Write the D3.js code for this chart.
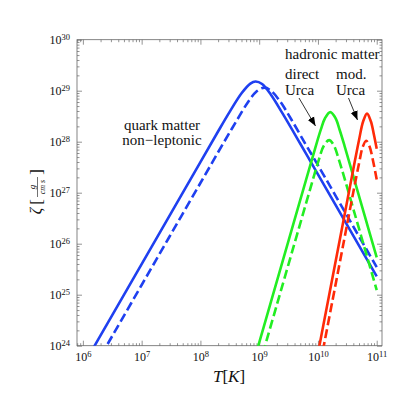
<!DOCTYPE html>
<html>
<head>
<meta charset="utf-8">
<script src="https://cdn.jsdelivr.net/npm/d3@7"></script>
<style>
  body { margin: 0; background: #fff; }
  svg text { font-family: "Liberation Serif", "Times New Roman", serif; fill: #111; }
</style>
</head>
<body>
<svg id="chart" width="415" height="415"></svg>
<script>

// decades shown on the axes (log10 values)
const xDecades = [6, 7, 8, 9, 10, 11];
const yDecades = [24, 25, 26, 27, 28, 29, 30];

// curves, as [log10 T, log10 zeta]
const quarkSolid = [[6.0, 23.60], [6.5, 24.60], [7.0, 25.60], [7.5, 26.60], [8.0, 27.60], [8.3, 28.20],
    [8.5, 28.59], [8.7, 28.95], [8.85, 29.14], [8.94, 29.18], [9.05, 29.13], [9.2, 28.92], [9.4, 28.55],
    [9.7, 27.96], [10.0, 27.36], [10.5, 26.36], [11.0, 25.36]];
const quarkDashed = [[6.2, 23.59], [6.5, 24.19], [7.0, 25.19], [7.5, 26.19], [8.0, 27.19], [8.4, 27.99],
    [8.6, 28.38], [8.8, 28.76], [8.95, 28.98], [9.09, 29.06], [9.2, 29.00], [9.35, 28.80], [9.55, 28.43],
    [9.8, 27.93], [10.0, 27.54], [10.5, 26.54], [11.0, 25.54]];
const directSolid = [[8.9, 23.66], [9.2, 24.86], [9.5, 26.06], [9.8, 27.26], [9.95, 27.86], [10.05, 28.24],
    [10.12, 28.46], [10.21, 28.58], [10.3, 28.46], [10.37, 28.23], [10.45, 27.93], [10.6, 27.33],
    [10.8, 26.53], [11.0, 25.73]];
const directDashed = [[9.0, 23.60], [9.3, 24.80], [9.6, 26.00], [9.85, 27.00], [10.0, 27.59], [10.1, 27.92],
    [10.19, 28.03], [10.27, 27.93], [10.35, 27.67], [10.45, 27.29], [10.6, 26.69], [10.8, 25.89],
    [11.0, 25.09]];
const modSolid = [[9.95, 23.55], [10.2, 25.05], [10.45, 26.55], [10.6, 27.45], [10.7, 28.04], [10.77, 28.40],
    [10.835, 28.55], [10.9, 28.40], [10.95, 28.15], [11.0, 27.86]];
const modDashed = [[10.0, 23.40], [10.25, 24.90], [10.45, 26.10], [10.6, 27.00], [10.7, 27.58], [10.76, 27.89],
    [10.82, 28.02], [10.88, 27.90], [10.94, 27.61], [11.0, 27.26]];

const blue = '#1f40f0', green = '#22ee22', red = '#ff2a08';

const series = [
    { data: quarkSolid, color: blue, dash: null },
    { data: quarkDashed, color: blue, dash: '9,4' },
    { data: directSolid, color: green, dash: null },
    { data: directDashed, color: green, dash: '9,4' },
    { data: modSolid, color: red, dash: null },
    { data: modDashed, color: red, dash: '9,4' }
];

const plotLeft = 77, plotRight = 382, plotTop = 39.7, plotBottom = 345.7;
const serif = '"Liberation Serif", "Times New Roman", serif';

const x = d3.scaleLog().domain([Math.pow(10, 5.9), Math.pow(10, 11.09)]).range([plotLeft, plotRight]);
const y = d3.scaleLog().domain([1e24, 1e30]).range([plotBottom, plotTop]);

const svg = d3.select('#chart').style('font-family', serif);

function minorTicks (scale) {
    var dom = scale.domain(), out = [];
    var lo = Math.floor(Math.log10(dom[0])), hi = Math.ceil(Math.log10(dom[1]));
    for (var d = lo; d <= hi; d++) {
        for (var m = 2; m <= 9; m++) {
            var v = m * Math.pow(10, d);
            if (v > dom[0] && v < dom[1]) out.push(v);
        }
    }
    return out;
}

// superscript labels like 10^24
function powLabel (sel) {
    sel.each(function (d) {
        var t = d3.select(this).text('').style('font-family', serif);
        t.append('tspan').text('10');
        t.append('tspan').attr('dy', '-0.45em').style('font-size', '8.5px').text(Math.round(Math.log10(d)));
    });
}

const xMajor = xDecades.map(function (e) { return Math.pow(10, e); });
const yMajor = yDecades.map(function (e) { return Math.pow(10, e); });

// inward ticks on all four sides
function drawAxis (axisFn, scale, transform, labels) {
    var g = svg.append('g').attr('transform', transform);
    g.call(axisFn(scale).tickValues(minorTicks(scale)).tickSize(-2.5).tickFormat(''));
    g.select('.domain').remove();
    var gM = svg.append('g').attr('transform', transform);
    gM.call(axisFn(scale).tickValues(scale === x ? xMajor : yMajor).tickSize(-5).tickPadding(labels ? 7 : 0)
        .tickFormat(labels ? function (d) { return d; } : ''));
    gM.select('.domain').remove();
    svg.selectAll('.tick line').attr('stroke', '#666').attr('stroke-width', 0.7);
    if (labels) {
        gM.selectAll('text').style('font-size', '12px').attr('fill', '#111').call(powLabel);
    }
    return gM;
}

drawAxis(d3.axisBottom, x, 'translate(0,' + plotBottom + ')', true);
drawAxis(d3.axisTop, x, 'translate(0,' + plotTop + ')', false);
drawAxis(d3.axisLeft, y, 'translate(' + plotLeft + ',0)', true);
drawAxis(d3.axisRight, y, 'translate(' + plotRight + ',0)', false);

svg.append('rect')
    .attr('x', plotLeft).attr('y', plotTop)
    .attr('width', plotRight - plotLeft).attr('height', plotBottom - plotTop)
    .attr('fill', 'none').attr('stroke', '#666').attr('stroke-width', 0.8);

svg.append('clipPath').attr('id', 'plotClip')
    .append('rect').attr('x', plotLeft).attr('y', plotTop)
    .attr('width', plotRight - plotLeft).attr('height', plotBottom - plotTop);

const line = d3.line()
    .x(function (d) { return x(Math.pow(10, d[0])); })
    .y(function (d) { return y(Math.pow(10, d[1])); })
    .curve(d3.curveCatmullRom.alpha(0.5));

svg.append('g').attr('clip-path', 'url(#plotClip)')
    .selectAll('path').data(series).enter().append('path')
    .attr('d', function (s) { return line(s.data); })
    .attr('fill', 'none')
    .attr('stroke', function (s) { return s.color; })
    .attr('stroke-width', 2.6)
    .attr('stroke-dasharray', function (s) { return s.dash; });

// annotations
const note = svg.append('g').style('font-size', '15px').style('font-family', serif);
note.append('text').attr('x', 162).attr('y', 130).attr('text-anchor', 'middle').text('quark matter');
note.append('text').attr('x', 162).attr('y', 145).attr('text-anchor', 'middle').text('non\u2212leptonic');
note.append('text').attr('x', 285).attr('y', 59).text('hadronic matter');
note.append('text').attr('x', 285).attr('y', 79).text('direct');
note.append('text').attr('x', 285).attr('y', 95).text('Urca');
note.append('text').attr('x', 336).attr('y', 79).text('mod.');
note.append('text').attr('x', 336).attr('y', 95).text('Urca');

svg.append('defs').append('marker')
    .attr('id', 'arrow').attr('viewBox', '0 0 10 10')
    .attr('refX', 10).attr('refY', 5)
    .attr('markerWidth', 9).attr('markerHeight', 9)
    .attr('markerUnits', 'userSpaceOnUse')
    .attr('orient', 'auto')
    .append('path').attr('d', 'M0,1 L10,5 L0,9 Z').attr('fill', '#000');

svg.append('line').attr('x1', 299).attr('y1', 98).attr('x2', 315.5).attr('y2', 126)
    .attr('stroke', '#000').attr('stroke-width', 0.8).attr('marker-end', 'url(#arrow)');
svg.append('line').attr('x1', 348.5).attr('y1', 98).attr('x2', 357.5).attr('y2', 120)
    .attr('stroke', '#000').attr('stroke-width', 0.8).attr('marker-end', 'url(#arrow)');

// x axis title
const xt = svg.append('text').attr('x', 229).attr('y', 382).attr('text-anchor', 'middle')
    .style('font-size', '17px').style('font-family', serif);
xt.append('tspan').style('font-style', 'italic').text('T');
xt.append('tspan').text('[');
xt.append('tspan').style('font-style', 'italic').text('K');
xt.append('tspan').text(']');

// y axis title: zeta [ g / cm s ], rotated
const yt = svg.append('g').attr('transform', 'translate(37,190) rotate(-90)').style('font-family', serif);
yt.append('text').attr('x', -21).attr('y', 4).attr('text-anchor', 'middle')
    .style('font-size', '16px').style('font-style', 'italic').text('\u03b6');
yt.append('text').attr('x', -12).attr('y', 5).attr('text-anchor', 'middle').style('font-size', '17px').text('[');
yt.append('text').attr('x', 18).attr('y', 5).attr('text-anchor', 'middle').style('font-size', '17px').text(']');
yt.append('text').attr('x', 3).attr('y', -2).attr('text-anchor', 'middle')
    .style('font-size', '9px').style('font-style', 'italic').text('g');
yt.append('line').attr('x1', -7).attr('x2', 13).attr('y1', 0.5).attr('y2', 0.5)
    .attr('stroke', '#111').attr('stroke-width', 0.6);
yt.append('text').attr('x', 3).attr('y', 8).attr('text-anchor', 'middle')
    .style('font-size', '8px').style('font-style', 'italic').text('cm s');

</script>
</body>
</html>
